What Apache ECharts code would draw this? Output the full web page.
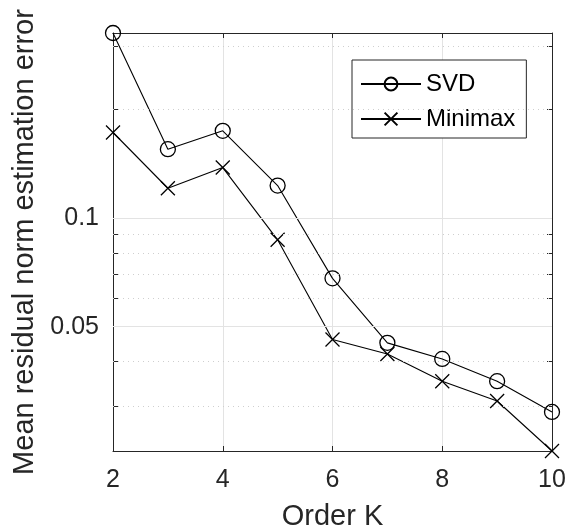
<!DOCTYPE html>
<html>
<head>
<meta charset="utf-8">
<script src="https://cdn.jsdelivr.net/npm/echarts@6/dist/echarts.min.js"></script>
<style>
  html, body { margin: 0; padding: 0; background: #fff; }
  #chart { width: 567px; height: 532px; }
</style>
</head>
<body>
<div id="chart"></div>
<script>
// Order K on the horizontal axis
const orders = [2, 3, 4, 5, 6, 7, 8, 9, 10];
// Mean residual norm estimation error for each method
const svdError = [0.3265, 0.1554, 0.1748, 0.1232, 0.0681, 0.0451, 0.0407, 0.0353, 0.0290];
const minimaxError = [0.1729, 0.1211, 0.1382, 0.0871, 0.0461, 0.0420, 0.0353, 0.0311, 0.0226];
// Labelled y ticks and the finer log-decade ticks
const yMajorTicks = [0.05, 0.1];
const yMinorTicks = [0.03, 0.04, 0.06, 0.07, 0.08, 0.09, 0.2, 0.3];
const yAllTicks = [0.03, 0.04, 0.05, 0.06, 0.07, 0.08, 0.09, 0.1, 0.2, 0.3];

const FONT = 'Liberation Sans, Arial, Helvetica, sans-serif';
const INK = '#262626';

const yMin = Math.min(...svdError, ...minimaxError);
const yMax = Math.max(...svdError, ...minimaxError);

const crossSymbol = 'path://M0,0L14,14M14,0L0,14';

const gridLines = [];
yMinorTicks.forEach(v => gridLines.push({
  yAxis: v, lineStyle: { color: '#cfcfcf', type: [1, 4], width: 1 }
}));
yMajorTicks.forEach(v => gridLines.push({
  yAxis: v, lineStyle: { color: '#e3e3e3', type: 'solid', width: 1 }
}));

const chart = echarts.init(document.getElementById('chart'), null, { renderer: 'canvas' });

chart.setOption({
  animation: false,
  backgroundColor: '#fff',
  textStyle: { fontFamily: FONT },
  grid: { left: 113, right: 15, top: 33, bottom: 81, containLabel: false, outerBoundsMode: 'none' },
  legend: {
    data: ['SVD', 'Minimax'],
    orient: 'vertical',
    left: 352,
    top: 60,
    padding: [12, 11, 7, 8],
    itemGap: 11,
    itemWidth: 60,
    itemHeight: 16,
    backgroundColor: '#fff',
    borderColor: INK,
    borderWidth: 1,
    borderRadius: 0,
    textStyle: { fontSize: 24, color: '#000', fontFamily: FONT }
  },
  xAxis: [{
    type: 'value',
    min: 2, max: 10, interval: 2,
    name: 'Order K',
    nameLocation: 'middle',
    nameGap: 51,
    nameTextStyle: { fontSize: 29, color: INK, fontFamily: FONT },
    axisLine: { show: true, onZero: false, lineStyle: { color: INK, width: 1 } },
    axisTick: { show: true, inside: true, length: 5, lineStyle: { color: INK } },
    axisLabel: { fontSize: 25, color: INK, margin: 17, fontFamily: FONT },
    splitLine: { show: true, lineStyle: { color: '#e3e3e3', width: 1 } }
  }, {
    type: 'value',
    position: 'top',
    min: 2, max: 10, interval: 2,
    axisLine: { show: true, onZero: false, lineStyle: { color: INK, width: 1 } },
    axisTick: { show: true, inside: true, length: 5, lineStyle: { color: INK } },
    axisLabel: { show: false },
    splitLine: { show: false }
  }],
  yAxis: [{
    type: 'log',
    min: yMin, max: yMax,
    name: 'Mean residual norm estimation error',
    nameLocation: 'middle',
    nameGap: 73,
    nameTextStyle: { fontSize: 29, color: INK, fontFamily: FONT },
    axisLine: { show: true, onZero: false, lineStyle: { color: INK, width: 1 } },
    axisTick: { show: true, inside: true, length: 5, lineStyle: { color: INK }, customValues: yAllTicks },
    axisLabel: { fontSize: 25, color: INK, margin: 14, fontFamily: FONT, customValues: yMajorTicks },
    splitLine: { show: false }
  }, {
    type: 'log',
    position: 'right',
    min: yMin, max: yMax,
    axisLine: { show: true, onZero: false, lineStyle: { color: INK, width: 1 } },
    axisTick: { show: true, inside: true, length: 5, lineStyle: { color: INK }, customValues: yAllTicks },
    axisLabel: { show: false },
    splitLine: { show: false }
  }],
  series: [{
    name: 'grid',
    type: 'line',
    data: [],
    z: 1,
    silent: true,
    markLine: {
      silent: true,
      symbol: 'none',
      label: { show: false },
      animation: false,
      data: gridLines
    }
  }, {
    name: 'SVD',
    type: 'line',
    data: orders.map((k, i) => [k, svdError[i]]),
    clip: false,
    z: 3,
    symbol: 'circle',
    symbolSize: 15,
    showAllSymbol: true,
    lineStyle: { color: '#000', width: 1.1 },
    itemStyle: { color: 'rgba(0,0,0,0)', borderColor: '#000', borderWidth: 1.3 }
  }, {
    name: 'Minimax',
    type: 'line',
    data: orders.map((k, i) => [k, minimaxError[i]]),
    clip: false,
    z: 3,
    symbol: crossSymbol,
    symbolSize: 14,
    showAllSymbol: true,
    lineStyle: { color: '#000', width: 1.1 },
    itemStyle: { color: 'rgba(0,0,0,0)', borderColor: '#000', borderWidth: 1.3 }
  }]
});
</script>
</body>
</html>
